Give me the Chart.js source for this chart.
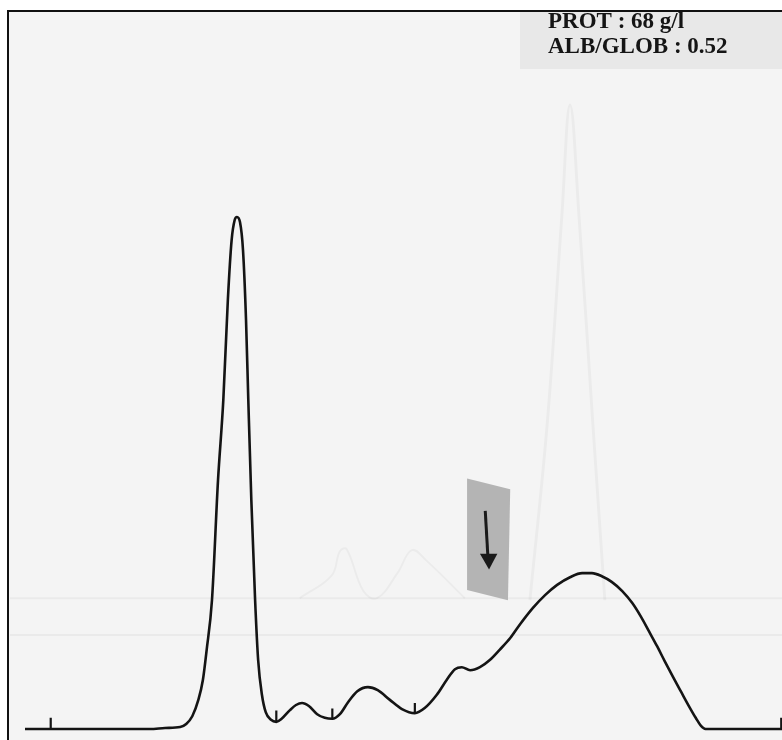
<!DOCTYPE html>
<html>
<head>
<meta charset="utf-8">
<script src="https://cdn.jsdelivr.net/npm/chart.js@4.4.1/dist/chart.umd.js"></script>
<style>
  html, body { margin: 0; padding: 0; background: #fff; }
  canvas { display: block; }
</style>
</head>
<body>
<canvas id="trace" width="782" height="740"></canvas>
<script>
// migration position (mm, 0 = start of baseline) and height (% of albumin peak)
const traceX = [0, 16.5, 18.5, 20.5, 21.3, 22.1, 22.9, 23.5, 24.0, 24.7, 25.5, 26.2, 26.8, 27.3, 27.7, 28.0,
  28.4, 28.8, 29.2, 29.5, 29.9, 30.4, 30.8, 31.3, 31.8, 32.5, 33.2, 33.9, 35.0, 35.8, 36.6, 37.5, 38.6, 39.6,
  40.6, 41.6, 42.7, 43.9, 45.3, 46.6, 48.2, 49.8, 51.5, 52.8, 54.4, 55.7, 56.8, 57.7, 58.8, 60.1, 61.4, 62.7,
  64.1, 65.4, 67.1, 68.7, 70.3, 72.0, 73.6, 74.9, 76.2, 77.5, 78.9, 80.2, 81.4, 82.4, 83.5, 84.5, 85.6, 86.7,
  87.7, 88.6, 89.3, 89.9, 100];
const traceY = [0, 0, 0.2, 0.4, 1.0, 2.5, 5.7, 9.6, 15.5, 25.2, 48.7, 64.4, 84.0, 95.7, 99.6, 100.2,
  99.2, 93.7, 80.0, 64.4, 44.8, 25.2, 13.5, 6.7, 3.3, 1.8, 1.4, 2.0, 3.7, 4.7, 5.1, 4.5, 2.9, 2.2,
  2.0, 2.9, 5.3, 7.4, 8.2, 7.6, 5.7, 3.9, 3.1, 4.1, 6.7, 9.6, 11.7, 12.1, 11.5, 12.1, 13.5, 15.5,
  17.8, 20.5, 23.7, 26.2, 28.2, 29.7, 30.5, 30.5, 29.9, 28.8, 27.0, 24.7, 21.9, 19.2, 16.2, 13.3, 10.2, 7.2,
  4.5, 2.2, 0.6, 0, 0];

// fraction separation marks (position, valley height, mark top)
const cutX = [33.2, 40.6, 51.5];
const cutLow = [1.4, 2.0, 3.1];
const cutHigh = [3.6, 4.0, 5.1];

// baseline end ticks
const tickX = [3.4, 99.9];
const tickTop = 2.2;

// faint trace showing through from the back of the sheet
const ghostX = [66.7, 69.0, 70.9, 72.0, 73.2, 75.0, 76.6];
const ghostY = [25.2, 60.0, 100.0, 122.1, 100.0, 60.0, 25.2];
const ghost2X = [36.3, 40.5, 41.6, 42.5, 44.7, 46.5, 49.2, 51.1, 53.0, 58.1];
const ghost2Y = [25.6, 30.0, 34.8, 35.2, 27.0, 25.6, 30.5, 35.0, 33.0, 25.6];
const ghostLines = [25.6, 18.4];

// header text
const headerLines = ['PROT : 68 g/l', 'ALB/GLOB : 0.52'];

const pts = (xs, ys) => xs.map((x, i) => ({ x, y: ys[i] }));

const cutPts = [];
cutX.forEach((x, i) => { cutPts.push({ x, y: cutLow[i] }, { x, y: cutHigh[i] }, { x, y: null }); });
const tickPts = [];
tickX.forEach(x => { tickPts.push({ x, y: 0 }, { x, y: tickTop }, { x, y: null }); });
const ghostLinePts = [];
ghostLines.forEach(y => { ghostLinePts.push({ x: -2, y }, { x: 100, y }, { x: 100, y: null }); });

const paper = {
  id: 'paper',
  beforeDraw(chart) {
    const c = chart.ctx;
    c.save();
    c.fillStyle = '#ffffff';
    c.fillRect(0, 0, chart.width, chart.height);
    c.fillStyle = '#f4f4f4';
    c.fillRect(8, 11, chart.width - 8, chart.height - 11);
    // grey label strip
    c.fillStyle = '#e8e8e8';
    c.fillRect(520, 12, chart.width - 520, 57);
    c.restore();
  },
  afterDatasetsDraw(chart) {
    const c = chart.ctx;
    const xs = chart.scales.x, ys = chart.scales.y;
    // sticky note with arrow
    const px = v => xs.getPixelForValue(v), py = v => ys.getPixelForValue(v);
    c.save();
    c.fillStyle = '#b4b4b4';
    c.beginPath();
    c.moveTo(px(58.4), py(49.0));
    c.lineTo(px(64.1), py(46.9));
    c.lineTo(px(63.8), py(25.2));
    c.lineTo(px(58.4), py(27.2));
    c.closePath();
    c.fill();
    c.strokeStyle = '#1a1a1a';
    c.fillStyle = '#1a1a1a';
    c.lineWidth = 3;
    c.beginPath();
    c.moveTo(px(60.8), py(42.7));
    c.lineTo(px(61.2), py(32.5));
    c.stroke();
    c.beginPath();
    c.moveTo(px(60.1), py(34.3));
    c.lineTo(px(62.4), py(34.3));
    c.lineTo(px(61.3), py(31.2));
    c.closePath();
    c.fill();
    c.restore();

    // frame
    c.save();
    c.fillStyle = '#111';
    c.fillRect(7, 10, chart.width - 7, 2);
    c.fillRect(7, 10, 2, chart.height - 10);
    // header text
    c.fillStyle = '#151515';
    c.font = 'bold 23px "Liberation Serif", serif';
    c.textBaseline = 'alphabetic';
    c.fillText(headerLines[0], 548, 28);
    c.fillText(headerLines[1], 548, 53);
    c.restore();
  }
};

new Chart(document.getElementById('trace'), {
  type: 'line',
  data: {
    datasets: [
      { data: ghostLinePts, borderColor: 'rgba(0,0,0,0.04)', borderWidth: 2, tension: 0, spanGaps: false, order: 5 },
      { data: pts(ghostX, ghostY), borderColor: 'rgba(0,0,0,0.035)', borderWidth: 3, tension: 0.4, order: 5 },
      { data: pts(ghost2X, ghost2Y), borderColor: 'rgba(0,0,0,0.035)', borderWidth: 2, tension: 0.4, order: 5 },
      { data: pts(traceX, traceY), borderColor: '#141414', borderWidth: 2.6, tension: 0.35, cubicInterpolationMode: 'monotone', order: 1 },
      { data: cutPts, borderColor: '#141414', borderWidth: 2.2, tension: 0, spanGaps: false, order: 1 },
      { data: tickPts, borderColor: '#141414', borderWidth: 2.2, tension: 0, spanGaps: false, order: 1 }
    ]
  },
  options: {
    responsive: false,
    animation: false,
    layout: { padding: 0 },
    elements: { point: { radius: 0 } },
    datasets: { line: { clip: false } },
    plugins: { legend: { display: false }, tooltip: { enabled: false } },
    scales: {
      x: { type: 'linear', min: -3.3, max: 100, display: false },
      y: { type: 'linear', min: -2.15, max: 142.66, display: false }
    }
  },
  plugins: [paper]
});
</script>
</body>
</html>
